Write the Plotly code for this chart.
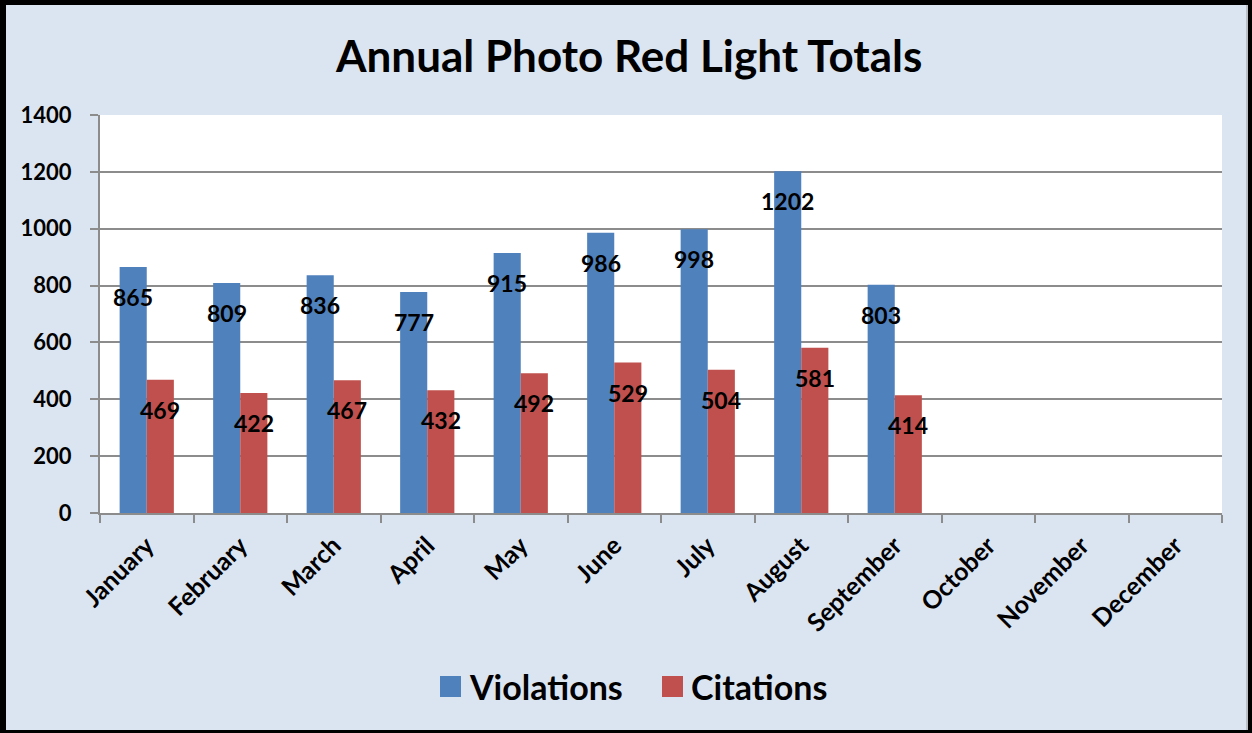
import plotly.graph_objects as go

# Monthly red-light camera totals
months = ["January", "February", "March", "April", "May", "June",
          "July", "August", "September", "October", "November", "December"]
violations = [865, 809, 836, 777, 915, 986, 998, 1202, 803, None, None, None]
citations = [469, 422, 467, 432, 492, 529, 504, 581, 414, None, None, None]
y_ticks = [0, 200, 400, 600, 800, 1000, 1200, 1400]

BLUE = "#4F81BD"
RED = "#C0504D"
BG = "#DBE5F1"
GRID = "#8C8C8C"
FONT = "Lato"

W, H = 1252, 733
L, R, T, B = 100, 30, 115, 220
PW, PH = W - L - R, H - T - B


def px(x):
    return (x - L) / PW


def py(y):
    return (H - B - y) / PH


fig = go.Figure()
fig.add_trace(go.Bar(name="Violations", x=months, y=violations,
                     marker=dict(color=BLUE, line=dict(width=0)), showlegend=False))
fig.add_trace(go.Bar(name="Citations", x=months, y=citations,
                     marker=dict(color=RED, line=dict(width=0)), showlegend=False))

annotations = []
# value labels, centred on each bar just below its top
for series, shift in ((violations, -13.5), (citations, 13.5)):
    for m, v in zip(months, series):
        if v is None:
            continue
        annotations.append(dict(x=m, y=v, xref="x", yref="y", text=str(v),
                                showarrow=False, xshift=shift, yshift=-30,
                                font=dict(family=FONT, size=23, color="black", weight="bold")))

# legend: coloured squares with series names
legend_items = [("Violations", BLUE, 440), ("Citations", RED, 662)]
shapes = []
for name, color, x0 in legend_items:
    shapes.append(dict(type="rect", xref="paper", yref="paper",
                       x0=px(x0), x1=px(x0 + 21), y0=py(697), y1=py(676),
                       fillcolor=color, line=dict(width=0)))
    annotations.append(dict(x=px(x0 + 27), y=py(686), xref="paper", yref="paper",
                            text=name, showarrow=False, xanchor="left", yanchor="middle",
                            font=dict(family=FONT, size=34, color="black", weight="bold")))

# title
annotations.append(dict(x=px(628), y=py(55), xref="paper", yref="paper",
                        text="Annual Photo Red Light Totals", showarrow=False,
                        xanchor="center", yanchor="middle",
                        font=dict(family=FONT, size=44, color="black", weight="bold")))

# black frame around the whole chart
for x0, x1, y0, y1 in ((0, 6, 0, H), (0, W, 0, 5), (W - 4, W, 0, H), (0, W, H - 3, H)):
    shapes.append(dict(type="rect", xref="paper", yref="paper",
                       x0=px(x0), x1=px(x1), y0=py(y1), y1=py(y0),
                       fillcolor="black", line=dict(width=0), layer="above"))
shapes.append(dict(type="line", xref="paper", yref="paper",
                   x0=px(W - 5), x1=px(W - 5), y0=py(H - 3), y1=py(5),
                   line=dict(color="#9a9a9a", width=1)))

fig.update_layout(
    width=W, height=H,
    margin=dict(l=L, r=R, t=T, b=B),
    paper_bgcolor=BG, plot_bgcolor="white",
    barmode="group", bargap=0.42, bargroupgap=0,
    annotations=annotations, shapes=shapes,
    font=dict(family=FONT, color="black"),
)
fig.update_xaxes(
    type="category", categoryarray=months, categoryorder="array",
    tickson="boundaries", ticks="outside", ticklen=8, tickwidth=2, tickcolor=GRID,
    showline=True, linecolor=GRID, linewidth=2, showgrid=False,
    tickangle=-45, tickfont=dict(family=FONT, size=25, color="black", weight="bold"),
    ticklabelstandoff=6,
)
fig.update_yaxes(
    range=[0, 1400], tickvals=y_ticks, ticktext=[str(t) for t in y_ticks],
    ticks="outside", ticklen=8, tickwidth=2, tickcolor=GRID,
    showline=True, linecolor=GRID, linewidth=2,
    showgrid=True, gridcolor=GRID, gridwidth=2, zeroline=False,
    tickfont=dict(family=FONT, size=22, color="black", weight="bold"),
    ticklabelstandoff=14,
)

fig.write_html("out.html")
